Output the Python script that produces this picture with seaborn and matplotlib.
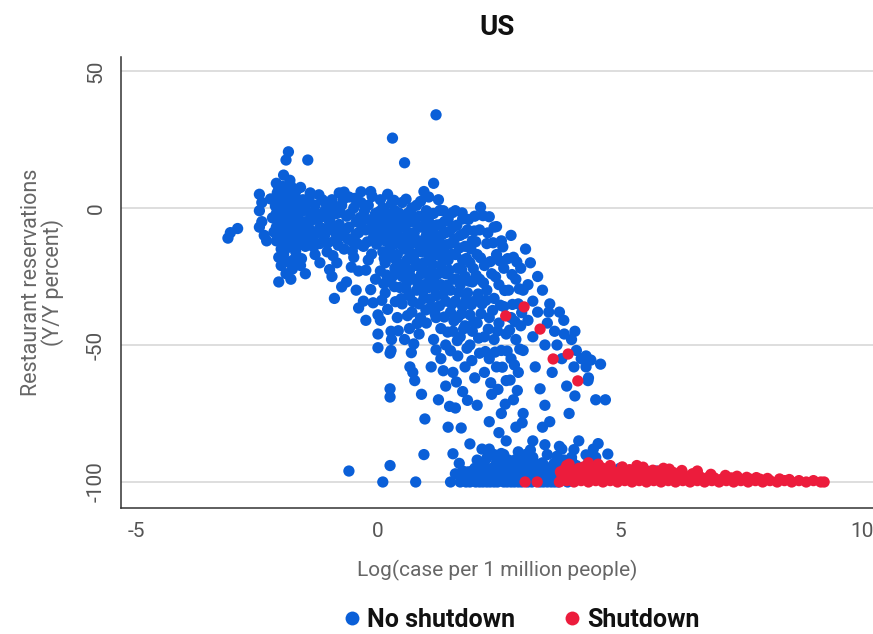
import matplotlib
matplotlib.use("Agg")
import matplotlib.pyplot as plt
import seaborn as sns
import pandas as pd

# Counties without a shutdown order: (log cases per 1M people, reservations Y/Y %)
no_shutdown = [
    (-3.1, -11), (-3.05, -9), (-2.9, -7.5),
    (-2.45, 5), (-2.4, 2), (-2.45, -1), (-2.4, -5), (-2.45, -7), (-2.35, -10), (-2.3, -12),
    (-2.1, 9), (-2.05, 7), (-2.1, 4), (-2.05, 1), (-2.1, -2), (-2.05, -4), (-2.1, -7),
    (-2.05, -9), (-2.1, -12), (-2.0, -15), (-2.05, -18), (-2.0, -21), (-2.05, -27),
    (-1.95, 12), (-1.9, 5), (-1.95, 2), (-1.9, 0), (-1.95, -3), (-1.9, -6), (-1.95, -11),
    (-1.9, -13), (-1.95, -17), (-1.9, -24),
    (-1.85, 20.5), (-1.9, 17.5), (-1.8, 8), (-1.8, 3), (-1.85, -1), (-1.8, -5), (-1.8, -8),
    (-1.75, -10), (-1.8, -14), (-1.75, -19), (-1.8, -26),
    (-1.7, 6), (-1.7, 1), (-1.65, -3), (-1.7, -7), (-1.65, -12), (-1.7, -16), (-1.6, -21),
    (-1.6, 7.5), (-1.55, 3), (-1.55, -1), (-1.5, -5), (-1.55, -9), (-1.5, -14), (-1.45, 17.5),
    (-1.45, 2), (-1.4, -2), (-1.4, -8), (-1.35, -11), (-1.3, -17), (-1.4, 5.5), (-1.3, 1),
    (-1.25, -4), (-1.2, -7), (-1.2, -13), (-1.15, 3), (-1.1, -1), (-1.1, -10), (-1.05, -16),
    (-1.0, 0), (-1.0, -5), (-0.95, -8), (-0.95, 3), (-0.9, -12), (-0.85, -2), (-0.85, -20),
    (-0.8, 5.5), (-0.8, -6), (-0.75, 1), (-0.75, -10), (-0.7, -15), (-0.65, -3), (-0.6, -7),
    (-0.6, 4), (-0.55, -12), (-0.5, 0), (-0.5, -18), (-0.45, -5), (-0.4, -9), (-0.4, -23),
    (-0.35, 2), (-0.3, -14), (-0.3, -4), (-0.25, -8), (-0.2, -19), (-0.2, 1), (-0.15, 6),
    (-0.1, -6), (-0.1, -11), (-0.05, -26), (-0.05, -2), (-0.9, -33), (-0.45, -30),
    (-0.3, -34), (-0.25, -41), (-0.6, -96), (-1.5, -24), (-1.2, -20), (-0.95, -25),
    (-0.65, -27),
    (-2.22, 3.3), (-2.18, -3.6), (-2.15, -8.8), (-2.12, 0.7), (-2.08, 5.6), (-2.02, -6.3),
    (-1.98, -1.2), (-1.97, 7.9), (-1.93, -9.4), (-1.92, -15.2), (-1.88, -19.6), (-1.87, 3.9),
    (-1.83, -3.1), (-1.82, 10.1), (-1.78, -11.7), (-1.77, -22.3), (-1.73, -0.4), (-1.72, 4.6),
    (-1.68, -8.9), (-1.67, -13.8), (-1.63, -5.2), (-1.62, 2.2), (-1.58, -18.5), (-1.57, -10.6),
    (-1.52, 0.4), (-1.48, -7.1), (-1.46, -11.9), (-1.42, 3.7), (-1.38, -4.6), (-1.33, -14.2),
    (-1.28, -1.9), (-1.27, -9.3), (-1.22, 4.8), (-1.18, -3.4), (-1.13, -7.6), (-1.08, 1.9),
    (-1.04, -12.8), (-0.98, -3.3), (-0.93, -17.4), (-0.88, 0.6),
    (-0.87, -9.1), (-0.82, -13.6), (-0.78, -1.5), (-0.72, 3.1), (-0.68, -8.2), (-0.63, -11.3),
    (-0.58, -2.2), (-0.53, -15.7), (-0.48, 3.5), (-0.46, -9.8), (-0.42, -13.1), (-0.37, -3.5),
    (-0.33, -7.2), (-0.28, -1.1), (-0.22, -12.4), (-0.18, -4.3), (-0.13, -16.8), (-0.08, -9.4),
    (-0.03, -13.2), (-0.02, -4.9), (-0.7, 5.8), (-0.35, 5.9), (-0.12, 4.2), (-0.55, -21.6),
    (-0.25, -22.7), (-0.15, -29.8), (-0.4, -36.5), (-0.75, -28.8), (-1.0, -22.5), (-0.1, -34.6),
    (0.0, -39), (0.05, -41), (0.0, -46), (0.0, -51), (0.27, -45), (0.28, -48), (0.27, -52),
    (0.25, -53), (0.66, -58), (0.72, -60), (0.76, -63), (0.25, -66), (0.25, -69), (0.9, -68),
    (0.97, -77), (0.95, -90), (0.25, -94), (0.1, -100), (0.78, -100),
    (1.2, 34), (0.3, 25.5), (0.55, 16.5), (1.15, 9), (0.95, 6), (0.8, 1), (0.2, 5),
    (0.05, 3), (0.1, 0), (0.1, -4), (0.05, -8), (0.15, -12), (0.1, -16), (0.15, -20),
    (0.05, -23), (0.2, -27), (0.15, -31), (0.2, -2), (0.25, -6), (0.3, -10), (0.25, -14),
    (0.3, -18), (0.35, -22), (0.3, -25), (0.35, -1), (0.4, -5), (0.4, -9), (0.45, -13),
    (0.4, -17), (0.45, -21), (0.5, -25), (0.45, -29), (0.5, -35), (0.5, 2), (0.55, -3),
    (0.55, -7), (0.6, -11), (0.55, -15), (0.6, -19), (0.65, -23), (0.6, -27), (0.65, -32),
    (0.7, -38), (0.7, 0), (0.7, -5), (0.75, -9), (0.7, -13), (0.75, -17), (0.8, -21),
    (0.75, -26), (0.8, -30), (0.85, -35), (0.85, -3), (0.9, -7), (0.85, -12), (0.9, -16),
    (0.95, -20), (0.9, -24), (0.95, -28), (0.95, -33), (1.0, -42), (1.0, -1), (1.0, -10),
    (0.65, -44), (0.55, -48), (0.85, -46), (0.2, -37), (0.4, -40),
    (0.03, -1.3), (0.08, -11.2), (0.12, -6.3), (0.13, -18.4), (0.17, -2.6), (0.18, -24.5),
    (0.22, -9.1), (0.23, -16.2), (0.28, 1.6), (0.32, -3.4), (0.33, -13.3), (0.34, -28.7),
    (0.38, -7.2), (0.39, -19.5), (0.43, -1.8), (0.44, -10.6), (0.47, -24.2), (0.48, -33.1),
    (0.52, -5.3), (0.53, -12.7), (0.57, -21.4), (0.58, -29.5), (0.62, -1.9), (0.63, -8.9),
    (0.67, -16.4), (0.68, -25.3), (0.72, -34.2), (0.73, -3.2), (0.77, -11.6), (0.78, -19.8),
    (0.82, -27.3), (0.83, -6.7), (0.87, -14.5), (0.88, -40.1), (0.92, -22.4), (0.93, -30.6),
    (0.97, -3.8), (0.98, -13.6), (0.99, -37.2), (0.61, -39.3), (0.36, -34.2), (0.12, -27.6),
    (0.08, -33.7), (0.42, -44.8), (0.74, -49.6), (0.81, -42.2), (0.58, 3.2), (0.33, 2.8),
    (0.88, 2.4), (0.69, -52.8),
    (1.05, 4), (1.05, -5), (1.1, -14), (1.05, -19), (1.1, -23), (1.05, -29), (1.1, -36),
    (1.15, -2), (1.15, -9), (1.2, -17), (1.15, -26), (1.2, -32), (1.2, -40), (1.25, 3),
    (1.3, -6), (1.25, -12), (1.3, -21), (1.3, -28), (1.3, -44), (1.35, -1), (1.35, -15),
    (1.4, -9), (1.4, -24), (1.4, -34), (1.4, -50), (1.45, -4), (1.5, -13), (1.45, -19),
    (1.5, -30), (1.5, -38), (1.55, -7), (1.55, -26), (1.55, -45), (1.6, -1), (1.6, -17),
    (1.6, -34), (1.65, -22), (1.65, -40), (1.65, -54), (1.7, -10), (1.7, -28), (1.7, -47),
    (1.75, -4), (1.75, -19), (1.75, -36), (1.8, -14), (1.8, -25), (1.8, -43), (1.8, -58),
    (1.85, -8), (1.85, -31), (1.9, -20), (1.9, -39), (1.9, -50), (1.95, -12), (1.95, -27),
    (1.95, -45), (2.0, -3), (2.0, -34), (2.0, -62), (1.3, -55), (1.15, -48), (1.55, -60),
    (1.4, -65), (1.25, -70), (1.1, -58), (1.6, -73), (1.45, -80), (1.75, -67),
    (1.02, -7.4), (1.03, -16.3), (1.07, -25.8), (1.08, -33.2), (1.08, -2.1), (1.12, -11.3),
    (1.13, -20.6), (1.17, -29.4), (1.18, -38.6), (1.22, -6.2), (1.23, -14.8), (1.24, -24.1),
    (1.27, -35.7), (1.28, -0.9), (1.32, -9.8), (1.33, -18.3), (1.34, -31.6), (1.37, -39.8),
    (1.38, -4.9), (1.42, -13.4), (1.43, -28.2), (1.44, -45.3), (1.47, -22.7), (1.48, -8.6),
    (1.52, -16.9), (1.53, -35.1), (1.54, -1.7), (1.57, -41.2), (1.58, -11.4), (1.62, -25.9),
    (1.63, -6.3), (1.64, -48.4), (1.67, -30.8), (1.68, -14.6), (1.72, -38.7), (1.73, -22.5),
    (1.74, -1.8), (1.77, -44.1), (1.78, -9.3), (1.82, -33.6), (1.83, -18.4), (1.84, -51.2),
    (1.87, -4.2), (1.88, -26.7), (1.92, -14.9), (1.93, -35.3), (1.94, -55.7), (1.97, -22.1),
    (1.98, -41.5), (1.99, -8.4), (1.5, -52.1), (1.2, -51.8), (1.35, -59.4), (1.62, -63.5),
    (1.85, -70.2), (1.72, -80.3), (1.48, -72.4), (1.9, -86.1), (1.55, -89.7), (1.68, -93.2),
    (2.05, -17), (2.05, -42), (2.1, -8), (2.1, -26), (2.1, -53), (2.15, -35), (2.2, -21),
    (2.2, -47), (2.2, -60), (2.25, -13), (2.25, -30), (2.3, -40), (2.3, -55), (2.35, -24),
    (2.35, -68), (2.4, -7), (2.4, -33), (2.4, -48), (2.45, -17), (2.45, -58), (2.5, -28),
    (2.5, -42), (2.55, -12), (2.55, -52), (2.55, -75), (2.6, -22), (2.6, -36), (2.65, -46),
    (2.65, -63), (2.7, -30), (2.75, -10), (2.75, -40), (2.75, -55), (2.8, -18), (2.8, -70),
    (2.85, -26), (2.85, -48), (2.9, -35), (2.9, -60), (2.95, -22), (2.95, -43), (3.0, -30),
    (3.0, -52), (2.5, -82), (2.3, -78), (2.15, -88), (2.65, -85), (2.85, -80), (2.4, -90),
    (2.05, -72), (2.7, -92), (3.0, -75),
    (2.02, -12.3), (2.03, -24.6), (2.07, -31.4), (2.08, -47.5), (2.12, -18.2), (2.13, -38.6),
    (2.17, -2.8), (2.18, -27.3), (2.22, -52.4), (2.23, -33.7), (2.27, -9.1), (2.28, -44.2),
    (2.32, -19.6), (2.33, -63.8), (2.37, -37.4), (2.38, -12.7), (2.42, -52.6), (2.43, -25.1),
    (2.47, -44.9), (2.48, -66.2), (2.52, -19.3), (2.53, -35.5), (2.57, -58.1), (2.58, -14.2),
    (2.62, -30.1), (2.63, -71.6), (2.67, -52.2), (2.68, -18.5), (2.72, -44.6), (2.73, -62.8),
    (2.77, -24.3), (2.78, -35.2), (2.82, -57.3), (2.83, -41.4), (2.87, -19.7), (2.88, -66.6),
    (2.92, -29.5), (2.93, -51.5), (2.97, -38.2), (2.98, -78.4), (2.12, 0.3), (2.45, -6.8),
    (2.3, -3.2),
    (3.05, -15), (3.1, -28), (3.1, -41), (3.15, -20), (3.2, -34), (3.2, -47), (3.25, -58),
    (3.3, -25), (3.3, -38), (3.35, -66), (3.4, -30), (3.45, -50), (3.5, -42), (3.55, -35),
    (3.6, -60), (3.65, -45), (3.7, -50), (3.75, -38), (3.8, -55), (3.85, -46), (3.9, -65),
    (4.0, -48), (4.05, -58), (4.1, -52), (4.2, -55), (4.3, -58), (4.35, -62), (4.5, -70),
    (3.4, -80), (3.2, -85), (3.55, -78), (3.75, -87), (3.95, -75), (4.15, -85), (4.4, -92),
    (4.7, -70), (3.05, -90), (3.45, -72), (4.0, -92), (3.53, -38), (3.84, -41), (4.07, -45),
    (4.3, -54), (4.4, -55.5), (4.6, -57), (4.07, -68.6), (4.34, -63),
    (1.7, -100), (1.8, -98), (1.9, -100), (1.95, -96), (2.0, -99), (2.1, -100), (2.15, -97),
    (2.2, -94), (2.25, -100), (2.3, -98), (2.35, -95), (2.4, -100), (2.45, -97), (2.5, -99),
    (2.55, -93), (2.6, -100), (2.65, -96), (2.7, -98), (2.75, -100), (2.8, -95), (2.85, -97),
    (2.9, -100), (2.95, -93), (3.0, -98), (3.05, -96), (3.1, -100), (3.15, -94), (3.2, -98),
    (3.3, -96), (3.35, -100), (3.4, -93), (3.45, -98), (3.5, -100), (3.55, -95), (3.6, -97),
    (3.65, -100), (3.7, -94), (3.75, -98), (3.85, -92), (3.9, -96), (4.0, -91), (4.1, -94),
    (4.2, -97), (4.35, -93), (4.5, -91), (4.6, -96), (4.75, -97), (4.9, -96), (5.0, -95),
    (5.3, -97), (5.55, -96), (5.75, -96),
    (1.75, -96), (2.05, -92), (2.3, -88), (2.6, -90), (2.9, -89), (3.2, -91), (3.5, -90),
    (3.8, -88), (2.0, -95), (2.45, -93), (2.75, -94), (3.05, -92), (3.35, -95), (3.65, -93),
    (3.95, -95), (1.5, -100), (1.6, -97), (4.45, -88), (4.55, -86),
    (1.72, -98.4), (1.82, -100), (1.86, -96.3), (1.92, -98.2), (2.02, -100), (2.07, -97.4),
    (2.12, -95.6), (2.17, -100), (2.22, -98.3), (2.27, -96.2), (2.32, -100), (2.37, -97.6),
    (2.42, -95.3), (2.47, -100), (2.52, -96.7), (2.57, -98.5), (2.62, -94.8), (2.67, -100),
    (2.72, -96.4), (2.77, -98.1), (2.82, -100), (2.87, -94.2), (2.92, -97.2), (2.97, -100),
    (3.02, -95.4), (3.08, -98.1), (3.12, -96.3), (3.18, -100), (3.22, -95.2), (3.27, -98.4),
    (3.32, -93.6), (3.38, -97.1), (3.42, -100), (3.48, -95.5), (3.52, -97.7), (3.58, -100),
    (3.62, -93.8), (3.68, -96.6), (3.72, -100), (3.78, -95.9), (3.82, -99), (3.88, -97.3),
    (3.92, -100), (2.25, -91.3), (2.55, -89.6), (2.85, -91.8), (3.15, -88.3), (3.45, -86.4),
    (3.7, -90.6), (4.05, -88.2), (4.3, -90.1), (4.75, -89.8),
]

# Counties under a shutdown order
shutdown = [
    (2.64, -39.4), (3.02, -36.1), (3.35, -44.2), (3.93, -53.3), (3.62, -55.1), (4.13, -63.1),
    (3.04, -100), (3.29, -100),
    (3.75, -100), (3.9, -99.5), (4.05, -100), (4.2, -99.5), (4.35, -100), (4.5, -99.5),
    (4.65, -100), (4.8, -99.5), (4.95, -100), (5.1, -99.5), (5.25, -100), (5.4, -99.5),
    (5.55, -100), (5.7, -99.5), (5.85, -100), (6.0, -99.5), (6.15, -100), (6.3, -99.5),
    (6.45, -100), (6.6, -99.5), (6.75, -100), (6.9, -99.5), (7.05, -100), (7.2, -99.5),
    (7.35, -100), (7.5, -99.5), (7.65, -100), (7.8, -99.5), (7.95, -100), (8.1, -99.5),
    (8.25, -100), (8.4, -99.5), (8.55, -100), (8.7, -99.5), (8.85, -100), (9.0, -99.5),
    (9.15, -100), (9.22, -100),
    (3.8, -97.5), (3.95, -98), (4.1, -97), (4.25, -98), (4.4, -97.5), (4.55, -98),
    (4.7, -97), (4.85, -98), (5.0, -97.5), (5.15, -98), (5.3, -97), (5.45, -98),
    (5.6, -97.5), (5.75, -98), (5.9, -97.5), (6.05, -98), (6.2, -98.5), (6.35, -98),
    (6.5, -98.5), (6.65, -98), (6.8, -98.5), (6.95, -98.5), (7.1, -99), (7.3, -98.5),
    (7.5, -99), (7.7, -99), (7.9, -99),
    (3.85, -95.5), (4.0, -96), (4.15, -95), (4.3, -96), (4.45, -95.5), (4.6, -96),
    (4.75, -95.5), (4.9, -96.5), (5.05, -96), (5.2, -95.5), (5.35, -96.5), (5.5, -96),
    (5.65, -96.5), (5.8, -96), (5.95, -96.5), (6.1, -96.5), (6.3, -97), (6.5, -97),
    (3.9, -94), (4.25, -94.5), (4.55, -93.5), (4.8, -94), (5.05, -94.5), (5.35, -94),
    (5.9, -95), (6.6, -96), (4.35, -93), (3.95, -93.5),
    (4.02, -96.8), (4.18, -97.4), (4.48, -96.9), (4.78, -97.3), (5.08, -96.2), (5.38, -97.6),
    (5.68, -95.7), (5.98, -97.6), (6.28, -95.8), (6.58, -97.8), (6.88, -97.2), (7.18, -97.6),
    (7.42, -97.9), (7.62, -98.3), (7.82, -98.4), (8.05, -98.7), (8.3, -98.9), (8.5, -99.1),
    (4.62, -94.8), (5.48, -94.6), (6.02, -95.3), (3.77, -96.3),
]

status_labels = ["No shutdown", "Shutdown"]
palette = {"No shutdown": "#0a5fd8", "Shutdown": "#ec1c3c"}

x_ticks = [-5, 0, 5, 10]
y_ticks = [-100, -50, 0, 50]

df = pd.DataFrame(
    [(x, y, status_labels[0]) for x, y in no_shutdown]
    + [(x, y, status_labels[1]) for x, y in shutdown],
    columns=["log_cases", "reservations", "status"],
)

sns.set_theme(style="whitegrid")
plt.rcParams["font.family"] = ["Roboto", "DejaVu Sans"]

fig = plt.figure(figsize=(8.73, 6.34), dpi=100)
ax = fig.add_axes([0.1386, 0.1987, 0.8614, 0.7114])

sns.scatterplot(
    data=df, x="log_cases", y="reservations", hue="status",
    hue_order=status_labels, palette=palette, s=66, linewidth=0,
    edgecolor="none", alpha=1, legend=False, ax=ax,
)

ax.set_xlim(-5.31, 10.23)
ax.set_ylim(-109.5, 55.1)
ax.set_xticks(x_ticks)
ax.set_yticks(y_ticks)
ax.set_xticklabels([str(t) for t in x_ticks])
ax.set_yticklabels([str(t) for t in y_ticks], rotation=90, va="center")

ax.grid(axis="x", visible=False)
ax.grid(axis="y", color="#d4d4d4", linewidth=1.1)
ax.set_axisbelow(True)
for side in ["top", "right"]:
    ax.spines[side].set_visible(False)
for side in ["left", "bottom"]:
    ax.spines[side].set_color("#333333")
    ax.spines[side].set_linewidth(1.1)
ax.tick_params(axis="both", direction="out", length=7, width=1.1, color="#333333",
               labelcolor="#555555", labelsize=15, pad=4)
ax.tick_params(axis="x", pad=3)

ax.set_xlabel("Log(case per 1 million people)", fontsize=15, color="#666666", labelpad=14)
ax.set_ylabel("Restaurant reservations\n(Y/Y percent)", fontsize=15.5, color="#666666",
              labelpad=16, linespacing=1.0)
ax.set_title("US", fontsize=20, fontweight="bold", color="#111111", pad=16)

handles = [
    plt.Line2D([], [], marker="o", linestyle="none", markersize=10,
               markerfacecolor=palette[lbl], markeredgewidth=0, label=lbl)
    for lbl in status_labels
]
leg = fig.legend(handles=handles, loc="center", bbox_to_anchor=(0.595, 0.022),
                 ncol=2, frameon=False, handletextpad=0.1, columnspacing=1.8,
                 handlelength=1.0, prop={"size": 18, "weight": "bold"})
for t in leg.get_texts():
    t.set_color("#111111")

fig.savefig("out.png", dpi=100)
